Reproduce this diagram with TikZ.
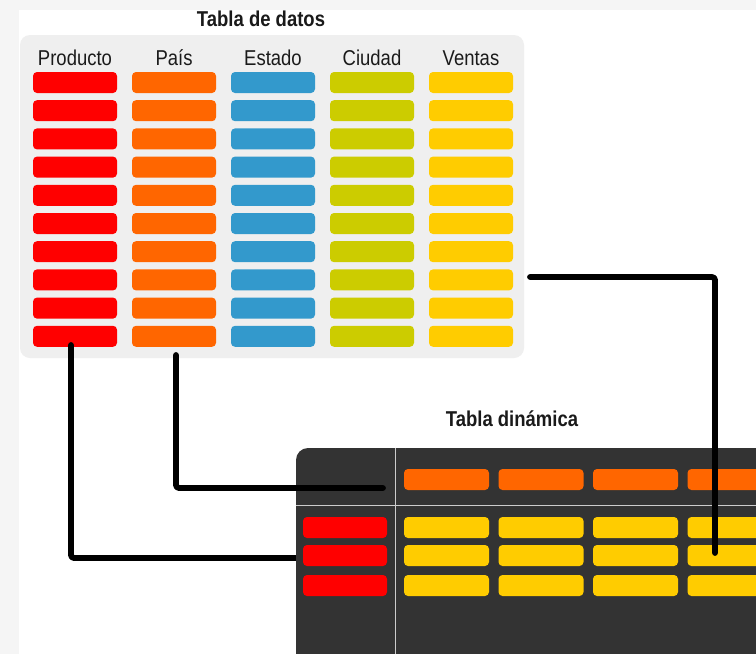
\documentclass[tikz,border=0pt]{standalone}
\usepackage{fontspec}
\newfontfamily\lab{Liberation Sans}[FakeStretch=0.86]
\definecolor{outerbg}{HTML}{F5F5F5}
\definecolor{panel}{HTML}{EFEFEF}
\definecolor{dark}{HTML}{333333}
\definecolor{cred}{HTML}{FF0000}
\definecolor{corange}{HTML}{FF6600}
\definecolor{cblue}{HTML}{3399CC}
\definecolor{colive}{HTML}{CCCC00}
\definecolor{cyellow}{HTML}{FFCC00}
\definecolor{txt}{HTML}{1A1A1A}
\tikzset{
  bar/.style={rectangle, rounded corners=4pt, inner sep=0pt, draw=none, minimum width=84pt, minimum height=21pt},
  pbar/.style={bar, minimum width=85pt},
  hdr/.style={anchor=base, inner sep=0pt, text=txt, font=\lab\fontsize{21.5}{21.5}\selectfont},
  ttl/.style={anchor=base, inner sep=0pt, text=txt, font=\lab\bfseries\fontsize{21.5}{21.5}\selectfont},
  conn/.style={draw=black, line width=5.8pt, line cap=round, line join=round, rounded corners=3pt},
  sep/.style={draw=white!80!black, line width=1pt}
}
\begin{document}
\begin{tikzpicture}[x=1pt,y=-1pt]
\useasboundingbox (0,0) rectangle (756,654);
\clip (0,0) rectangle (756,654);
\fill[outerbg] (0,0) rectangle (756,654);
\fill[white] (19,10) rectangle (756,654);
% data panel
\fill[panel, rounded corners=10pt] (20,35) rectangle (524,358);
\node[ttl] (t1) at (261,26) {Tabla de datos};
\node[hdr] (h1) at (75,65) {Producto};
\node[hdr] (h2) at (174,65) {País};
\node[hdr] (h3) at (273,65) {Estado};
\node[hdr] (h4) at (372,65) {Ciudad};
\node[hdr] (h5) at (471,65) {Ventas};
\foreach \i in {1,...,10}{
  \pgfmathsetmacro{\yy}{82.5+(\i-1)*28.2}
  \node[bar, fill=cred] (p\i) at (75,\yy) {};
  \node[bar, fill=corange] (c\i) at (174,\yy) {};
  \node[bar, fill=cblue] (e\i) at (273,\yy) {};
  \node[bar, fill=colive] (u\i) at (372,\yy) {};
  \node[bar, fill=cyellow] (v\i) at (471,\yy) {};
}
% connector behind pivot
\coordinate (a0) at (71,345);
\coordinate (a1) at (71,558);
\coordinate (a2) at (310,558);
\draw[conn] (a0) -- (a1) -- (a2);
% pivot table
\node[ttl] (t2) at (512,426) {Tabla dinámica};
\fill[dark, rounded corners=12pt] (296,448) rectangle (780,680);
\draw[sep] (395,448) -- (395,654);
\draw[sep] (296,505) -- (756,505);
\foreach \j/\xx in {1/446.5,2/541,3/635.5,4/730}{
  \node[pbar, fill=corange] (o\j) at (\xx,479.5) {};
  \node[pbar, fill=cyellow] (ya\j) at (\xx,527.5) {};
  \node[pbar, fill=cyellow] (yb\j) at (\xx,555.5) {};
  \node[pbar, fill=cyellow] (yc\j) at (\xx,585.5) {};
}
\node[bar, fill=cred] (r1) at (345,527.5) {};
\node[bar, fill=cred] (r2) at (345,555.5) {};
\node[bar, fill=cred] (r3) at (345,585.5) {};
% connectors over pivot
\coordinate (b0) at (176,355);
\coordinate (b1) at (176,488);
\coordinate (b2) at (383,488);
\draw[conn] (b0) -- (b1) -- (b2);
\coordinate (d0) at (530,277);
\coordinate (d1) at (715,277);
\coordinate (d2) at (715,553);
\draw[conn] (d0) -- (d1) -- (d2);
\end{tikzpicture}
\end{document}
